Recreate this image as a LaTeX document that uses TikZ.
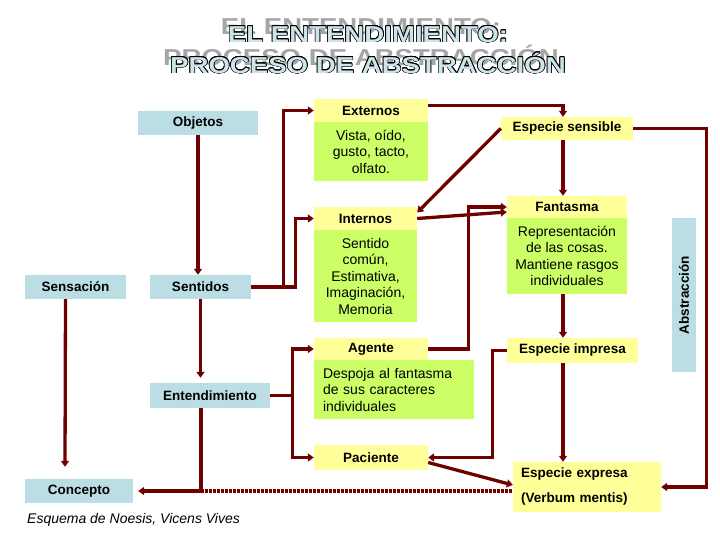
\documentclass[tikz,border=0pt]{standalone}
\usepackage{fontspec}
\setmainfont{Liberation Sans}
\newfontfamily\titlefont[FakeStretch=1.2]{Liberation Sans}
\usepackage{contour}
\contourlength{0.7pt}
\usetikzlibrary{arrows.meta,calc}
\definecolor{skyfill}{RGB}{187,222,228}
\definecolor{headfill}{RGB}{255,255,153}
\definecolor{bodyfill}{RGB}{204,255,102}
\definecolor{linered}{RGB}{110,0,0}
\definecolor{titlefill}{RGB}{205,228,232}
\definecolor{shadowgray}{RGB}{165,165,165}

\begin{document}
\begin{tikzpicture}[x=1pt, y=-1pt,
    title/.style={inner sep=0pt, align=center, font=\titlefont\bfseries\fontsize{23}{31}\selectfont},
    concept/.style={fill=skyfill, inner sep=0pt, font=\fontsize{13.5}{16}\selectfont\bfseries},
    head/.style={fill=headfill, inner sep=0pt, font=\fontsize{13.5}{16}\selectfont\bfseries},
    body/.style={fill=bodyfill, inner sep=0pt, align=center, font=\fontsize{14}{16.5}\selectfont},
    arr/.style={draw=linered, line width=3.3pt, -{Triangle[length=6pt,width=8pt]}},
    dots/.style={draw=linered, line width=3.3pt, dash pattern=on 2.5pt off 1.5pt}
]
\useasboundingbox (0,0) rectangle (720,540);
\node[title, text=shadowgray] (sombra) at (361,42.5) {EL ENTENDIMIENTO:\\PROCESO DE ABSTRACCIÓN};
\node[title, text=titlefill] (titulo) at (368,50) {\contour{black}{EL ENTENDIMIENTO:}\\\contour{black}{PROCESO DE ABSTRACCIÓN}};

\node[concept, minimum width=120pt, minimum height=24pt] (objetos) at (198,123) {Objetos};
\node[concept, minimum width=101pt, minimum height=24pt] (sensacion) at (75.5,287) {Sensación};
\node[concept, minimum width=101pt, minimum height=24pt] (sentidos) at (200.5,287) {Sentidos};
\node[concept, minimum width=120pt, minimum height=25pt] (entend) at (210,395.5) {Entendimiento};
\node[concept, minimum width=108pt, minimum height=24pt] (concepto) at (79,491) {Concepto};
\node[concept, minimum width=154pt, minimum height=24pt, rotate=90] (abstraccion) at (684,295) {Abstracción};

\node[head, minimum width=114pt, minimum height=23pt] (externos) at (371,110.5) {Externos};
\node[body, minimum width=114pt, minimum height=59pt] (externosb) at (371,151.5) {Vista, oído,\\gusto, tacto,\\olfato.};
\node[head, minimum width=103pt, minimum height=23pt] (internos) at (365.5,218.5) {Internos};
\node[body, minimum width=103pt, minimum height=92pt] (internosb) at (365.5,276) {Sentido\\común,\\Estimativa,\\Imaginación,\\Memoria};
\node[head, minimum width=114pt, minimum height=22pt] (agente) at (371,349) {Agente};
\node[body, minimum width=160pt, minimum height=59pt, text width=142pt, align=left] (agenteb) at (394,389.5) {Despoja al fantasma\\de sus caracteres\\individuales};
\node[head, minimum width=114pt, minimum height=25pt] (paciente) at (371,457.5) {Paciente};
\node[head, minimum width=132pt, minimum height=23pt] (sensible) at (567,128.5) {Especie sensible};
\node[head, minimum width=120pt, minimum height=22pt] (fantasma) at (567,207) {Fantasma};
\node[body, minimum width=120pt, minimum height=76pt] (fantasmab) at (567,256) {Representación\\de las cosas.\\Mantiene rasgos\\individuales};
\node[head, minimum width=131pt, minimum height=25pt] (impresa) at (572.5,350.5) {Especie impresa};
\node[head, minimum width=148pt, minimum height=50pt, text width=132pt, align=left] (expresa) at (587,487) {Especie expresa\\[9pt](Verbum mentis)};

\node[anchor=west, inner sep=0pt, font=\fontsize{14}{16}\selectfont\itshape] (fuente) at (27,520) {Esquema de Noesis, Vicens Vives};

\coordinate (eje) at (563,0);
\coordinate (cruce) at ([xshift=-9pt]entend.south |- concepto.east);

\draw[arr] (objetos.south) -- (objetos.south |- sentidos.north);
\draw[arr] ([xshift=-10pt]sensacion.south) -- ([xshift=-14pt,yshift=12pt]concepto.north);
\draw[arr] (sentidos.east) -- ++(32,0) |- (externos.west);
\draw[arr] (sentidos.east) -- ++(44,0) |- (internos.west);
\draw[arr, shorten >=5pt] (sentidos.south) -- (sentidos.south |- entend.north);
\draw[arr] (entend.east) -- ++(22,0) |- (agente.west);
\draw[arr] (entend.east) -- ++(22,0) |- (paciente.west);
\draw[arr] ([xshift=-9pt]entend.south) -- (cruce) -- ([xshift=5pt]concepto.east);
\draw[dots] (cruce) -- (cruce -| expresa.west);
\draw[arr] ([yshift=5pt]externos.east) -| (eje |- sensible.north);
\draw[arr] (sensible.west) -- ([yshift=6pt]internos.east);
\draw[arr] (internos.east) -- ([yshift=-5pt]fantasma.west);
\draw[arr] (agente.east) -- ++(40,0) |- (fantasma.west);
\draw[arr] (eje |- sensible.south) -- (eje |- fantasma.north);
\draw[arr] (eje |- fantasmab.south) -- (eje |- impresa.north);
\draw[arr] (eje |- impresa.south) -- (eje |- expresa.north);
\draw[arr] (sensible.east) -- ++(73,0) |- (expresa.east);
\draw[arr] (impresa.west) -- ++(-14,0) |- (paciente.east);
\draw[arr] ([yshift=-5pt]paciente.east) -- ([yshift=2pt]expresa.west);
\end{tikzpicture}
\end{document}
